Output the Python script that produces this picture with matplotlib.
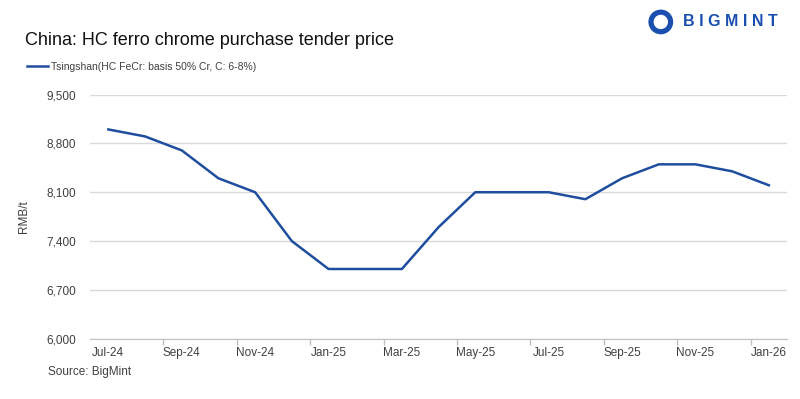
# China HC ferro chrome purchase tender price (Tsingshan), monthly line chart

import matplotlib.pyplot as plt
from matplotlib.patches import Ellipse

# Data
months = ['Jul-24', 'Aug-24', 'Sep-24', 'Oct-24', 'Nov-24', 'Dec-24',
          'Jan-25', 'Feb-25', 'Mar-25', 'Apr-25', 'May-25', 'Jun-25',
          'Jul-25', 'Aug-25', 'Sep-25', 'Oct-25', 'Nov-25', 'Dec-25', 'Jan-26']
prices = [9000, 8900, 8700, 8300, 8100, 7400,
          7000, 7000, 7000, 7600, 8100, 8100,
          8100, 8000, 8300, 8500, 8500, 8400, 8200]
yticks = [6000, 6700, 7400, 8100, 8800, 9500]

plt.rcParams['font.family'] = ['Liberation Sans', 'DejaVu Sans']

line_color = '#1f4e9f'
text_color = '#404040'

fig = plt.figure(figsize=(8, 3.99), dpi=100)
ax = fig.add_axes([0.1125, 0.151, 0.8715, 0.612])

x = list(range(len(months)))
ax.plot(x, prices, color=line_color, linewidth=1.8,
        label='Tsingshan(HC FeCr: basis 50% Cr, C: 6-8%)')

ax.set_xlim(-0.5, len(months) - 0.5)
ax.set_ylim(yticks[0], yticks[-1])
ax.set_yticks(yticks)
ax.set_yticklabels([f'{v:,}' for v in yticks])

# Excel-style axis: tick marks on category boundaries, labels on every 2nd month
ax.set_xticks([i + 1.5 for i in range(0, len(months) - 1, 2)])
ax.set_xticklabels([])
ax.set_xticks(x[::2], minor=True)
ax.set_xticklabels(months[::2], minor=True)
ax.tick_params(axis='x', which='major', length=4, color='#bfbfbf', width=1)
ax.tick_params(axis='x', which='minor', length=0, pad=6, labelsize=8.5, labelcolor=text_color)
ax.tick_params(axis='y', length=0, pad=10, labelsize=8.5, labelcolor=text_color)

ax.grid(axis='y', color='#d9d9d9', linewidth=1)
ax.set_axisbelow(True)
for side in ['top', 'right', 'left']:
    ax.spines[side].set_visible(False)
ax.spines['bottom'].set_color('#bfbfbf')
ax.spines['bottom'].set_zorder(0)

ax.set_ylabel('RMB/t', fontsize=8.5, color=text_color, labelpad=12)

# Title, legend and source
fig.text(0.031, 0.898, 'China: HC ferro chrome purchase tender price',
         fontsize=13, color='#111111', va='center')
fig.legend(loc='center left', bbox_to_anchor=(0.034, 0.832), frameon=False,
           fontsize=7.5, handlelength=2.0, handletextpad=0.3,
           borderpad=0, borderaxespad=0, labelcolor=text_color)
fig.text(0.06, 0.068, 'Source: BigMint', fontsize=8.5, color=text_color, va='center')

# BigMint logo (simple approximation)
logo_color = '#1a4fb0'
fig.add_artist(Ellipse((0.826, 0.945), 0.031, 0.062, transform=fig.transFigure,
                       facecolor=logo_color, edgecolor='none'))
fig.add_artist(Ellipse((0.826, 0.945), 0.018, 0.036, transform=fig.transFigure,
                       facecolor='white', edgecolor='none'))
fig.text(0.854, 0.945, 'B I G M I N T', fontsize=11.5, fontweight='bold',
         color=logo_color, va='center')

plt.savefig('out.png', dpi=100)
